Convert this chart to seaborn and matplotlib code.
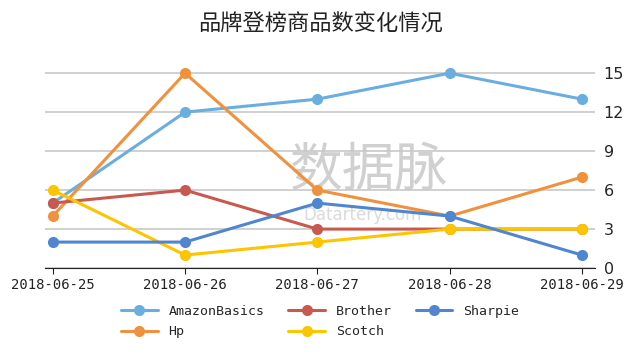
import pandas as pd
import numpy as np
import seaborn as sns
import matplotlib.pyplot as plt

dates = ['2018-06-25', '2018-06-26', '2018-06-27', '2018-06-28', '2018-06-29']
brands = ['AmazonBasics', 'Hp', 'Brother', 'Scotch', 'Sharpie']
amazon = [5, 12, 13, 15, 13]
hp = [4, 15, 6, 4, 7]
brother = [5, 6, 3, 3, 3]
scotch = [6, 1, 2, 3, 3]
sharpie = [2, 2, 5, 4, 1]
colors = ['#6aaee0', '#f0913e', '#c8594f', '#fcc500', '#4f86cf']
yticks = [0, 3, 6, 9, 12, 15]

sns.set_style('white')
plt.rcParams['font.family'] = ['DejaVu Sans', 'Noto Sans CJK SC']

df = pd.DataFrame({
    'date': dates * 5,
    'brand': np.repeat(brands, len(dates)),
    'count': amazon + hp + brother + scotch + sharpie,
})
df['x'] = df['date'].map({d: i for i, d in enumerate(dates)})

fig = plt.figure(figsize=(6.4, 3.56), dpi=100)
ax = fig.add_axes([0.07, 0.247, 0.86, 0.584])

# watermark
ax.text(0.445, 0.47, '数据脉', transform=ax.transAxes, fontsize=38,
        color='#d0d0d0', ha='left', va='center', zorder=0,
        family=['Noto Sans CJK SC'])
ax.text(0.47, 0.255, 'Datartery.com', transform=ax.transAxes, fontsize=12,
        color='#dadada', ha='left', va='center', zorder=0)

sns.lineplot(data=df, x='x', y='count', hue='brand', hue_order=brands,
             palette=colors, marker='o', markersize=8, markeredgewidth=0,
             linewidth=2.2, ax=ax, zorder=3)

ax.set_xlim(-0.06, 4.1)
ax.set_ylim(0, 16)
ax.set_xticks(range(len(dates)))
ax.set_xticklabels(dates, family='DejaVu Sans Mono', fontsize=10)
ax.set_yticks(yticks)
ax.yaxis.tick_right()
ax.tick_params(axis='y', length=0, labelsize=11.5, pad=6)
ax.tick_params(axis='x', length=4, direction='out', bottom=True, colors='#222222')
ax.grid(axis='y', color='#c8c8c8', linewidth=1.2)
ax.set_axisbelow(True)
for s in ['top', 'left', 'right']:
    ax.spines[s].set_visible(False)
ax.spines['bottom'].set_color('#222222')
ax.set_xlabel('')
ax.set_ylabel('')

fig.suptitle('品牌登榜商品数变化情况', y=0.965, fontsize=16,
             family=['Noto Sans CJK SC'], color='#222222')

handles, labels = ax.get_legend_handles_labels()
ax.legend(handles, labels, ncol=3, loc='upper center',
          bbox_to_anchor=(0.5, -0.12), frameon=False,
          prop={'family': 'DejaVu Sans Mono', 'size': 9.5},
          handlelength=2.8, columnspacing=1.8, labelspacing=0.55)

fig.savefig('out.png', dpi=100)
